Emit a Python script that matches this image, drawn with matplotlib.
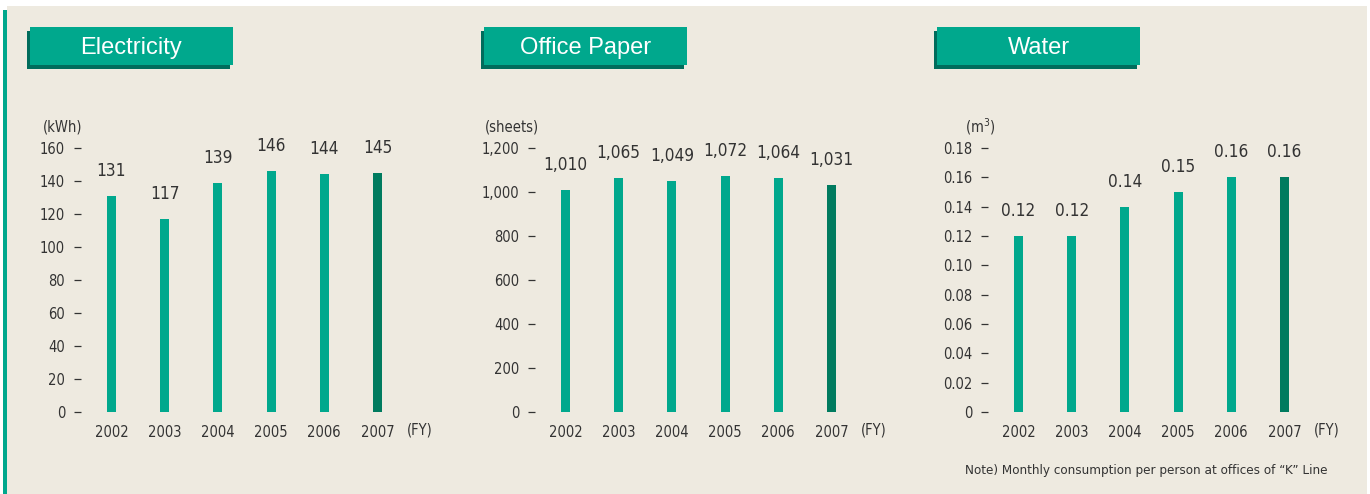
import matplotlib
matplotlib.use('Agg')
import matplotlib.pyplot as plt
from matplotlib.patches import Rectangle
from matplotlib.ticker import FuncFormatter
import numpy as np

plt.rcParams['font.family'] = ['DejaVu Sans']
plt.rcParams['font.stretch'] = 'condensed'

# data
years = ['2002', '2003', '2004', '2005', '2006', '2007']
electricity = [131, 117, 139, 146, 144, 145]
paper = [1010, 1065, 1049, 1072, 1064, 1031]
water = [0.12, 0.12, 0.14, 0.15, 0.16, 0.16]
titles = ['Electricity', 'Office Paper', 'Water']
units = ['(kWh)', '(sheets)', '(m$^3$)']
note = 'Note) Monthly consumption per person at offices of \u201cK\u201d Line'

BG = '#eeeae0'
TEAL = '#00a88d'
DARK = '#007b5f'
SHADOW = '#006c5c'
TXT = '#333333'

W, H = 1370, 494
fig = plt.figure(figsize=(W / 100, H / 100), dpi=100, facecolor='white')


def fx(x):
    return x / W


def fy(y):
    return 1 - y / H


def rect(x0, y0, x1, y1, color):
    fig.patches.append(Rectangle((fx(x0), fy(y1)), fx(x1) - fx(x0), fy(y0) - fy(y1),
                                 transform=fig.transFigure, color=color, lw=0, zorder=-5))


# background + left green rule
rect(7, 6, 1367, 494, BG)
rect(3, 10, 7, 494, TEAL)

panels = [
    (electricity, 160, 20, lambda v, p: f'{v:.0f}', lambda v: f'{v:.0f}'),
    (paper, 1200, 200, lambda v, p: f'{v:,.0f}', lambda v: f'{v:,.0f}'),
    (water, 0.18, 0.02, lambda v, p: '0' if abs(v) < 1e-9 else f'{v:.2f}', lambda v: f'{v:.2f}'),
]
offsets = [0, 454, 907]
step = 53.2     # px between bars
first = 111.5   # px centre of first bar (panel 1)

for i, (vals, top, tstep, fmt, lab) in enumerate(panels):
    off = offsets[i]
    left_px, right_px = 81 + off, 440 + off
    ax = fig.add_axes([fx(left_px), fy(412), fx(right_px - left_px), fy(148) - fy(412)])
    ax.set_facecolor('none')
    for s in ax.spines.values():
        s.set_visible(False)
    x = np.arange(len(years))
    colors = [TEAL] * (len(years) - 1) + [DARK]
    ax.bar(x, vals, width=0.17, color=colors, zorder=2)
    ax.set_xlim((left_px - off - first) / step, (right_px - off - first) / step)
    ax.set_ylim(0, top)
    ax.set_yticks(np.arange(0, top + tstep / 2, tstep))
    ax.yaxis.set_major_formatter(FuncFormatter(fmt))
    ax.set_xticks(x)
    ax.set_xticklabels(years)
    ax.tick_params(axis='y', length=5, width=0.9, color=TXT, pad=6.5, labelsize=10.5, labelcolor=TXT)
    ax.tick_params(axis='x', length=0, pad=9, labelsize=10.5, labelcolor=TXT)
    for xi, v in zip(x, vals):
        ax.annotate(lab(v), (xi, v), xytext=(0, 14.4), textcoords='offset points',
                    ha='center', va='baseline', fontsize=12.3, color=TXT)
    ax.text(5.79, -0.069, '(FY)', transform=ax.get_xaxis_transform(),
            ha='center', va='center', fontsize=10.5, color=TXT)

    # title box
    rect(27 + off, 31, 230 + off, 69, SHADOW)
    rect(30 + off, 27, 233 + off, 65, TEAL)
    fig.text(fx(131.5 + off), fy(48), titles[i], ha='center', va='center',
             fontsize=17, color='white', family=['Liberation Sans', 'DejaVu Sans'],
             stretch='normal')

unit_x = [43, 485, 965]
for ux, u in zip(unit_x, units):
    fig.text(fx(ux), fy(127), u, ha='left', va='center', fontsize=10.5, color=TXT)

fig.text(fx(965), fy(470), note, ha='left', va='center', fontsize=9.6, color=TXT)

fig.savefig('out.png', dpi=100, facecolor='white')
